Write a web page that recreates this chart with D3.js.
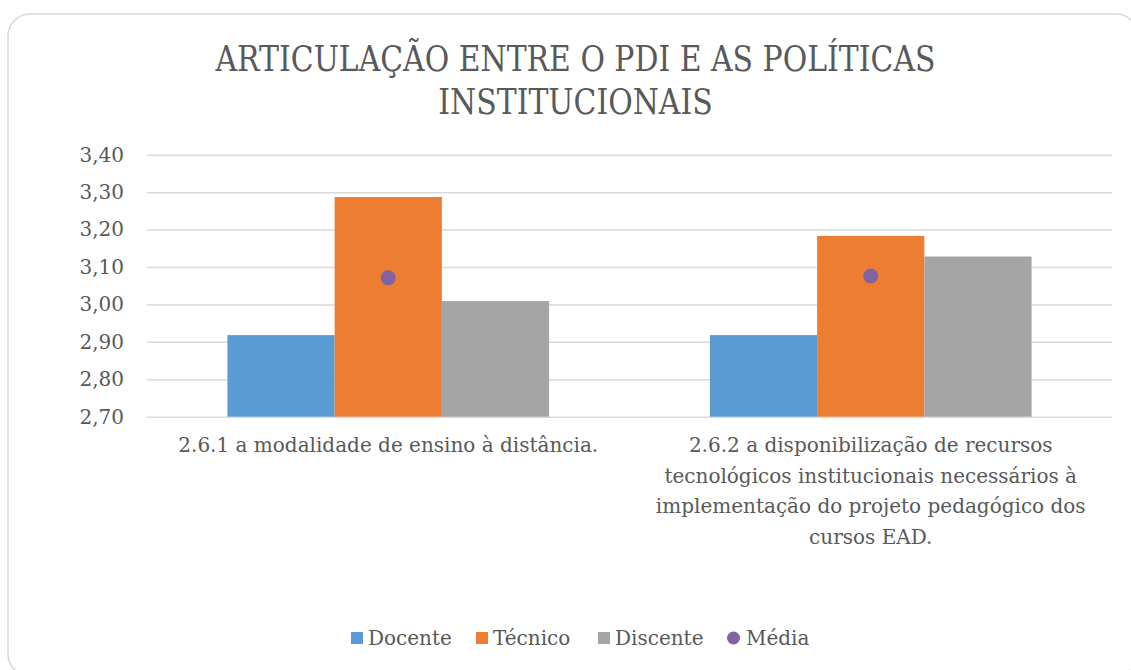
<!DOCTYPE html>
<html>
<head>
<meta charset="utf-8">
<script src="https://cdn.jsdelivr.net/npm/d3@7"></script>
<style>
  html, body { margin: 0; padding: 0; background: #fff; }
  svg { display: block; }
  text { font-family: "DejaVu Serif", "Liberation Serif", serif; fill: #595959; }
</style>
</head>
<body>
<svg id="chart" width="1131" height="670"></svg>
<script>
// data
const categories = [
  "2.6.1 a modalidade de ensino à distância.",
  "2.6.2 a disponibilização de recursos tecnológicos institucionais necessários à implementação do projeto pedagógico dos cursos EAD."
];
const seriesNames = ["Docente", "Técnico", "Discente"];
const docente = [2.918, 2.918];
const tecnico = [3.287, 3.183];
const discente = [3.009, 3.128];
const media = [3.071, 3.076];
const yTicks = [2.7, 2.8, 2.9, 3.0, 3.1, 3.2, 3.3, 3.4];
const titleLines = ["ARTICULAÇÃO ENTRE O PDI E AS POLÍTICAS", "INSTITUCIONAIS"];

const colors = ["#5B9BD5", "#ED7D31", "#A5A5A5"];
const mediaColor = "#8064A2";

const svg = d3.select("#chart");
const W = 1131, H = 670;
const margin = { left: 147, right: 19, top: 154.7, bottom: 670 - 416.7 };

// outer frame
svg.append("rect")
  .attr("x", 8).attr("y", 14)
  .attr("width", 1130).attr("height", 662)
  .attr("rx", 22).attr("ry", 22)
  .attr("fill", "#fff")
  .attr("stroke", "#d9d9d9")
  .attr("stroke-width", 1.5);

// title
svg.append("g").selectAll("text")
  .data(titleLines)
  .join("text")
  .attr("x", 575.5)
  .attr("y", (d, i) => 71 + i * 43)
  .attr("text-anchor", "middle")
  .style("font-size", "36px")
  .text(d => d)
  .each(function () {
    // condensed look of the original face
    const w = this.getComputedTextLength();
    d3.select(this).attr("textLength", w * 0.83).attr("lengthAdjust", "spacingAndGlyphs");
  });

const catStep = (W - margin.right - margin.left) / categories.length;
const x0 = d3.scaleBand()
  .domain(categories)
  .range([margin.left, W - margin.right])
  .padding(0);
// bars take 1/4.5 of the category width each
const x1 = d3.scaleBand()
  .domain(seriesNames)
  .range([0, catStep])
  .paddingOuter(0.75);

const y = d3.scaleLinear()
  .domain([2.7, 3.4])
  .range([H - margin.bottom, margin.top]);

// grid lines
svg.append("g")
  .attr("transform", `translate(${margin.left},0)`)
  .call(d3.axisLeft(y).tickValues(yTicks).tickSize(-(W - margin.right - margin.left)).tickFormat(""))
  .call(g => g.select(".domain").remove())
  .call(g => g.selectAll("line").attr("stroke", "#d9d9d9").attr("stroke-width", 1.5));

// y labels
svg.append("g")
  .attr("transform", `translate(${margin.left},0)`)
  .call(d3.axisLeft(y).tickValues(yTicks).tickSize(0).tickPadding(23)
    .tickFormat(d => d3.format(".2f")(d).replace(".", ",")))
  .call(g => g.select(".domain").remove())
  .call(g => g.selectAll("text")
    .style("font-size", "20px")
    .style("font-family", "'DejaVu Serif', serif")
    .attr("fill", "#595959"));

const seriesValues = [docente, tecnico, discente];
const rows = categories.map((c, ci) => ({
  cat: c,
  vals: seriesNames.map((s, si) => ({ s, si, v: seriesValues[si][ci] })),
  media: media[ci]
}));

const groups = svg.append("g").selectAll("g")
  .data(rows)
  .join("g")
  .attr("transform", d => `translate(${x0(d.cat)},0)`);

groups.selectAll("rect")
  .data(d => d.vals)
  .join("rect")
  .attr("x", d => x1(d.s))
  .attr("width", x1.bandwidth())
  .attr("y", d => y(d.v))
  .attr("height", d => y(2.7) - y(d.v))
  .attr("fill", d => colors[d.si]);

groups.append("circle")
  .attr("cx", catStep / 2)
  .attr("cy", d => y(d.media))
  .attr("r", 7.5)
  .attr("fill", mediaColor);

// category labels, wrapped
function wrap(textSel, width) {
  textSel.each(function () {
    const text = d3.select(this);
    const words = text.text().split(/\s+/);
    const xx = text.attr("x");
    text.text(null);
    let line = [];
    let tspan = text.append("tspan").attr("x", xx).attr("dy", 0);
    for (const w of words) {
      line.push(w);
      tspan.text(line.join(" "));
      if (tspan.node().getComputedTextLength() > width && line.length > 1) {
        line.pop();
        tspan.text(line.join(" "));
        line = [w];
        tspan = text.append("tspan").attr("x", xx).attr("dy", 30.7).text(w);
      }
    }
  });
}

svg.append("g").selectAll("text")
  .data(categories)
  .join("text")
  .attr("x", d => x0(d) + catStep / 2)
  .attr("y", 452)
  .attr("text-anchor", "middle")
  .style("font-size", "20px")
  .text(d => d)
  .call(wrap, 445);

// legend
const legendItems = seriesNames.map((s, i) => ({ name: s, color: colors[i], shape: "rect" }))
  .concat([{ name: "Média", color: mediaColor, shape: "circle" }]);
const legendX = [351, 476, 598, 727];
const leg = svg.append("g").selectAll("g")
  .data(legendItems)
  .join("g")
  .attr("transform", (d, i) => `translate(${legendX[i]},638)`);
leg.filter(d => d.shape === "rect").append("rect")
  .attr("x", 0).attr("y", -6).attr("width", 12).attr("height", 12)
  .attr("fill", d => d.color);
leg.filter(d => d.shape === "circle").append("circle")
  .attr("cx", 6.5).attr("cy", 0).attr("r", 6.5)
  .attr("fill", d => d.color);
leg.append("text")
  .attr("x", d => d.shape === "rect" ? 17 : 19)
  .attr("y", 7)
  .style("font-size", "20px")
  .text(d => d.name);
</script>
</body>
</html>
